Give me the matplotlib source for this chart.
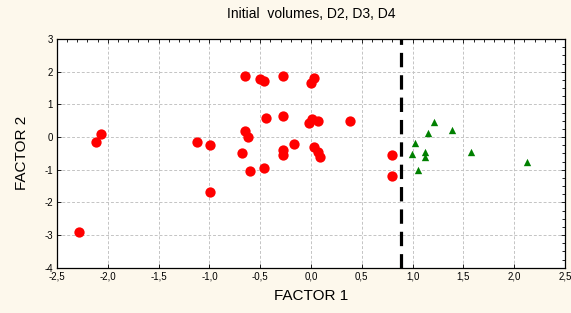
import matplotlib
matplotlib.use('Agg')
import matplotlib.pyplot as plt
from matplotlib.ticker import MultipleLocator, FuncFormatter

plt.rcParams['font.family'] = ['Liberation Sans', 'DejaVu Sans']

# group 1 (red circles)
red_x = [-2.28, -2.12, -2.07, -1.12, -0.99, -0.99, -0.68, -0.65, -0.65, -0.62,
         -0.60, -0.50, -0.46, -0.46, -0.44, -0.28, -0.28, -0.28, -0.28, -0.17,
         0.00, 0.03, -0.02, 0.01, 0.065, 0.03, 0.065, 0.09, 0.38, 0.80, 0.80]
red_y = [-2.92, -0.16, 0.09, -0.16, -0.23, -1.69, -0.48, 1.87, 0.18, 0.01,
         -1.04, 1.79, 1.71, -0.96, 0.59, 1.87, 0.65, -0.40, -0.56, -0.22,
         1.64, 1.80, 0.42, 0.56, 0.50, -0.30, -0.45, -0.62, 0.50, -0.55, -1.18]

# group 2 (green triangles)
green_x = [1.21, 1.15, 1.39, 1.02, 0.99, 1.125, 1.125, 1.05, 1.57, 2.13]
green_y = [0.45, 0.11, 0.21, -0.19, -0.52, -0.45, -0.60, -1.01, -0.45, -0.77]

cut_x = 0.89

bg = '#fdf8ec'
fig = plt.figure(figsize=(5.71, 3.13), dpi=100, facecolor=bg)
ax = fig.add_axes([0.0998, 0.1447, 0.8897, 0.7307])
ax.set_facecolor('white')

ax.grid(True, which='major', color='#c4c4c4', linestyle=(0, (3, 2)), linewidth=0.7, zorder=0)
ax.scatter(red_x, red_y, s=55, color='#ff0000', marker='o', linewidths=0, zorder=3)
ax.scatter(green_x, green_y, s=28, color='#008000', marker='^', linewidths=0, zorder=3)
ax.axvline(cut_x, color='black', linewidth=2.3, linestyle=(0, (4.5, 2.5)), zorder=4)

ax.set_xlim(-2.5, 2.5)
ax.set_ylim(-4, 3)
ax.xaxis.set_major_locator(MultipleLocator(0.5))
ax.xaxis.set_minor_locator(MultipleLocator(0.1))
ax.yaxis.set_major_locator(MultipleLocator(1))
ax.yaxis.set_minor_locator(MultipleLocator(0.25))
ax.xaxis.set_major_formatter(FuncFormatter(lambda v, p: ('%.1f' % v).replace('.', ',')))
ax.yaxis.set_major_formatter(FuncFormatter(lambda v, p: '%d' % v))

ax.tick_params(which='both', direction='in', top=True, right=True, labelsize=7, pad=3)
ax.tick_params(which='major', length=3, width=0.6)
ax.tick_params(which='minor', length=2, width=0.6, left=False, bottom=False)
for s in ax.spines.values():
    s.set_linewidth(0.9)

ax.set_title('Initial  volumes, D2, D3, D4', fontsize=10, pad=15)
ax.set_xlabel('FACTOR 1', fontsize=11, labelpad=5)
ax.set_ylabel('FACTOR 2', fontsize=11, labelpad=11)

fig.savefig('out.png', dpi=100, facecolor=bg)
